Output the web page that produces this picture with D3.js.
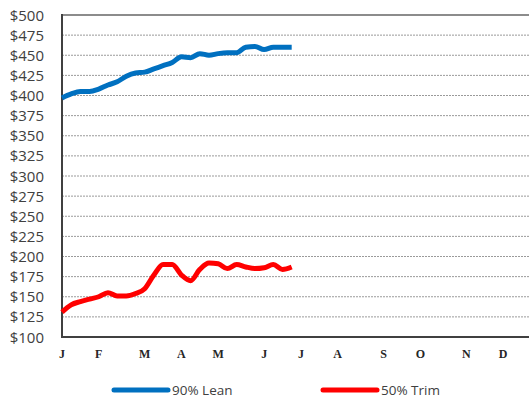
<!DOCTYPE html>
<html>
<head>
<meta charset="utf-8">
<script src="https://cdn.jsdelivr.net/npm/d3@7"></script>
<style>
  body { margin: 0; background: #fff; }
  svg { display: block; }
</style>
</head>
<body>
<div id="chart"></div>
<script>
// weekly prices, week 0 = first week of January
var weeks = d3.range(0, 26);
var lean90 = [397, 402, 405, 405, 408, 413, 417, 424, 428, 429, 433, 437, 441,
              448, 447, 452, 450, 452, 453, 453, 460, 461, 457, 460, 460, 460];
var trim50 = [131, 140, 144, 147, 150, 155, 151, 151, 154, 160, 177, 190, 190,
              177, 170, 184, 192, 191, 185, 190, 187, 185, 186, 190, 184, 187];
var monthLabels = ["J", "F", "M", "A", "M", "J", "J", "A", "S", "O", "N", "D"];
var monthWeeks = [0, 4, 9, 13, 17, 22, 26, 30, 35, 39, 44, 48];
var yTicks = d3.range(100, 501, 25);

var width = 529, height = 400;
var plotLeft = 62, plotTop = 15, plotBottom = 337;

var svg = d3.select("#chart").append("svg")
  .attr("width", width)
  .attr("height", height);

var x = d3.scaleLinear().domain([0, 48]).range([plotLeft, 503]);
var y = d3.scaleLinear().domain([100, 500]).range([plotBottom, plotTop]);

/* gridlines */
svg.append("g")
  .selectAll("line")
  .data(yTicks.filter(function(d){ return d > 100 && d < 500; }))
  .enter()
  .append("line")
  .attr("x1", plotLeft)
  .attr("x2", width)
  .attr("y1", function(d){ return y(d); })
  .attr("y2", function(d){ return y(d); })
  .attr("stroke", "#9a9a9a")
  .attr("stroke-width", 1)
  .attr("stroke-dasharray", "2,1");

/* top border */
svg.append("line")
  .attr("x1", plotLeft).attr("x2", width)
  .attr("y1", y(500)).attr("y2", y(500))
  .attr("stroke", "#8c8c8c")
  .attr("stroke-width", 2);

/* y labels */
svg.append("g")
  .selectAll("text")
  .data(yTicks)
  .enter()
  .append("text")
  .text(function(d){ return "$" + d; })
  .attr("x", 44)
  .attr("y", function(d){ return y(d) + 5.5; })
  .attr("text-anchor", "end")
  .attr("font-family", "Open Sans")
  .attr("font-size", 15)
  .attr("fill", "#404040");

/* x labels */
svg.append("g")
  .selectAll("text")
  .data(monthLabels)
  .enter()
  .append("text")
  .text(function(d){ return d; })
  .attr("x", function(d, i){ return x(monthWeeks[i]); })
  .attr("y", 358)
  .attr("text-anchor", "middle")
  .attr("font-family", "Liberation Serif")
  .attr("font-weight", "bold")
  .attr("font-size", 12)
  .attr("fill", "#262626");

/* axes lines */
svg.append("line")
  .attr("x1", plotLeft).attr("x2", width)
  .attr("y1", plotBottom).attr("y2", plotBottom)
  .attr("stroke", "#404040")
  .attr("stroke-width", 2);
svg.append("line")
  .attr("x1", plotLeft).attr("x2", plotLeft)
  .attr("y1", plotTop - 1).attr("y2", plotBottom + 1)
  .attr("stroke", "#404040")
  .attr("stroke-width", 2);

/* series */
var line = d3.line()
  .x(function(d, i){ return x(weeks[i]); })
  .y(function(d){ return y(d); })
  .curve(d3.curveMonotoneX);

var series = [
  {name: "90% Lean", values: lean90, color: "#0070C0"},
  {name: "50% Trim", values: trim50, color: "#FF0000"}
];

svg.selectAll("path.series")
  .data(series)
  .enter()
  .append("path")
  .attr("class", "series")
  .attr("d", function(d){ return line(d.values); })
  .attr("fill", "none")
  .attr("stroke", function(d){ return d.color; })
  .attr("stroke-width", 5)
  .attr("stroke-linejoin", "round")
  .attr("stroke-linecap", "butt");

/* legend */
var legendX = [114, 323];
var legend = svg.selectAll("g.legend")
  .data(series)
  .enter()
  .append("g")
  .attr("class", "legend")
  .attr("transform", function(d, i){ return "translate(" + legendX[i] + ",390)"; });

legend.append("line")
  .attr("x1", 0).attr("x2", 54)
  .attr("y1", 0).attr("y2", 0)
  .attr("stroke", function(d){ return d.color; })
  .attr("stroke-width", 5)
  .attr("stroke-linecap", "round");

legend.append("text")
  .text(function(d){ return d.name; })
  .attr("x", 58)
  .attr("y", 5)
  .attr("font-family", "Open Sans")
  .attr("font-size", 13.5)
  .attr("fill", "#404040");
</script>
</body>
</html>
